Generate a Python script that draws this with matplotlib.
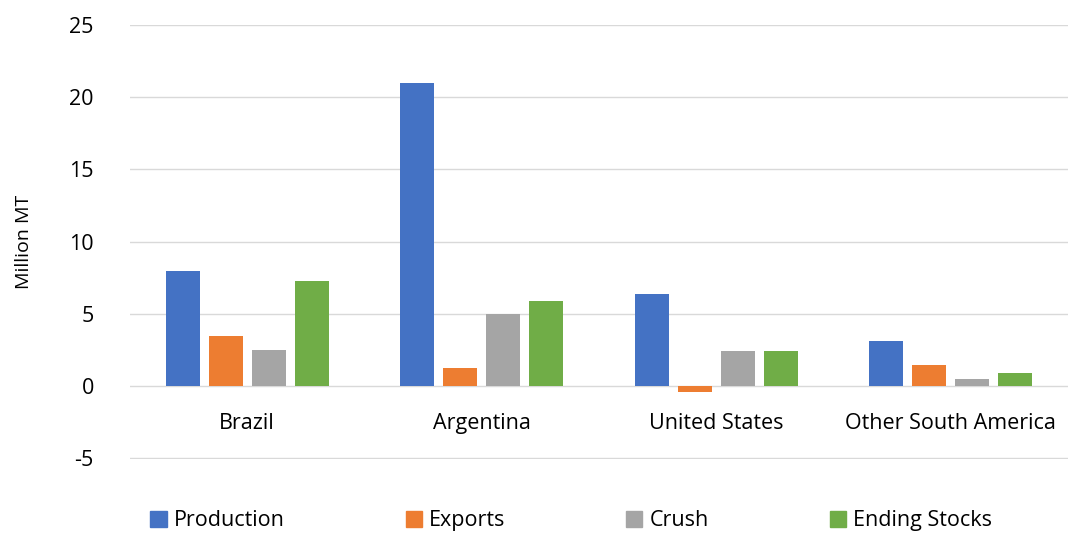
import numpy as np
import matplotlib.pyplot as plt
from matplotlib.patches import Patch

plt.rcParams['font.family'] = ['Open Sans', 'DejaVu Sans']
plt.rcParams['axes.unicode_minus'] = False

regions = ['Brazil', 'Argentina', 'United States', 'Other South America']
series = ['Production', 'Exports', 'Crush', 'Ending Stocks']
production = [8.0, 21.0, 6.35, 3.1]
exports = [3.45, 1.25, -0.4, 1.45]
crush = [2.5, 5.0, 2.45, 0.5]
ending_stocks = [7.25, 5.9, 2.45, 0.92]
colors = ['#4472C4', '#ED7D31', '#A5A5A5', '#70AD47']

fig = plt.figure(figsize=(10.68, 5.37), dpi=100)
ax = fig.add_axes([0.1217, 0.1453, 0.8783, 0.8081])

x = np.arange(len(regions))
width = 0.145
pitch = 0.183
for i, vals in enumerate([production, exports, crush, ending_stocks]):
    ax.bar(x + (i - 1.5) * pitch, vals, width, color=colors[i], zorder=3)

ax.set_xlim(-0.5, 3.5)
ax.set_ylim(-5.05, 25)
ax.set_yticks(range(-5, 30, 5))
ax.grid(axis='y', color='#D9D9D9', linewidth=1, zorder=0)
for s in ax.spines.values():
    s.set_visible(False)
ax.tick_params(axis='both', length=0, labelsize=15.5, colors='#000000')
ax.tick_params(axis='y', pad=26)
ax.set_xticks([])
for xi, name in zip(x, regions):
    ax.text(xi, -2.6, name, ha='center', va='center', fontsize=15.5)
ax.set_ylabel('Million MT', fontsize=14, labelpad=26)

handles = [Patch(color=c) for c in colors]
fig.legend(handles, series, loc='center', bbox_to_anchor=(0.535, 0.03), ncol=4,
           frameon=False, fontsize=15.5, handlelength=0.75, handleheight=0.75,
           handletextpad=0.35, columnspacing=5.6)

fig.savefig('out.png', dpi=100)
